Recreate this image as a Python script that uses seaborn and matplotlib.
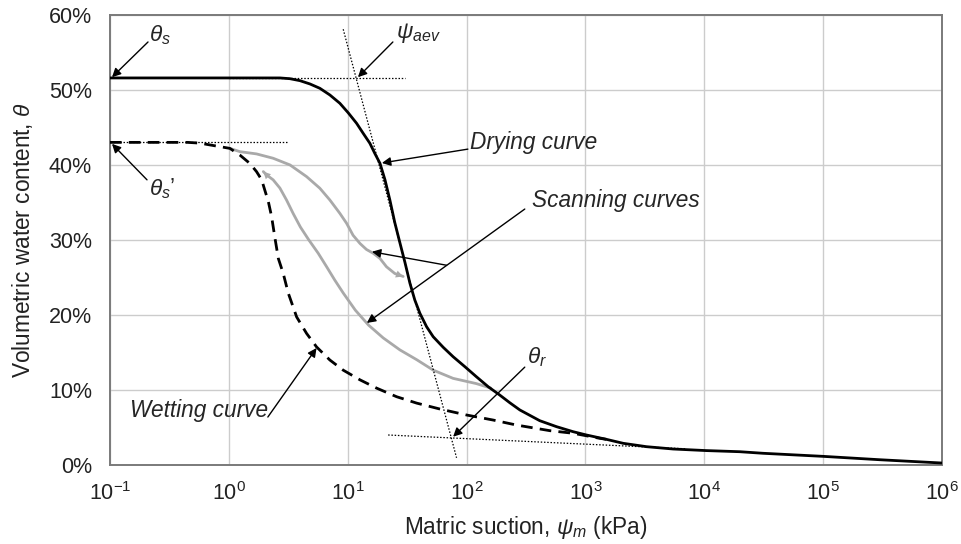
import numpy as np
import pandas as pd
import matplotlib
matplotlib.use("Agg")
import matplotlib.pyplot as plt
import seaborn as sns

# Soil-water characteristic curves: matric suction (kPa) vs volumetric water content (%)
drying_suction = [0.1, 1.0, 2.0, 2.69, 3.27, 3.96, 4.81, 5.83, 7.08, 8.59, 10.09, 11.88,
                  13.5, 15.37, 16.9, 18.7, 20.6, 22.65, 24.9, 27.5, 30.3, 33.4, 36.7,
                  40.5, 46.1, 52.4, 63.6, 77.1, 96.8, 121, 152, 190, 231, 281, 413,
                  572, 789, 1021, 1503, 2080, 3270, 5470, 10400, 19900, 31200, 1e5,
                  2.99e5, 1e6]
drying_theta = [51.6, 51.6, 51.6, 51.6, 51.5, 51.24, 50.8, 50.22, 49.33, 48.22, 46.96, 45.55,
                44.21, 42.88, 41.54, 40.2, 38.0, 35.3, 32.3, 29.6, 27.0, 24.2, 21.96,
                20.19, 18.4, 17.06, 15.65, 14.39, 13.06, 11.72, 10.39, 9.28, 8.25, 7.28, 5.85,
                5.05, 4.38, 3.94, 3.36, 2.83, 2.38, 2.07, 1.86, 1.71, 1.5, 1.09,
                0.64, 0.2]

wetting_suction = [0.1, 0.3, 0.45, 0.571, 0.693, 0.841, 1.02, 1.24, 1.5, 1.71, 1.89, 2.01,
                   2.15, 2.29, 2.44, 2.61, 2.87, 3.16, 3.72, 4.51, 5.47, 7.08, 9.16, 12.7,
                   17.5, 25.8, 38.0, 59.6, 100, 167, 263, 501, 789, 1318, 1500]
wetting_theta = [43.0, 43.0, 43.0, 42.9, 42.66, 42.43, 42.2, 41.3, 40.2, 39.1, 38.0, 36.6,
                 35.1, 33.1, 30.3, 27.5, 25.5, 22.9, 19.7, 17.5, 15.7, 13.95, 12.6, 11.3,
                 10.2, 9.05, 8.2, 7.41, 6.61, 5.94, 5.27, 4.52, 4.17, 3.5, 3.36]

# drying scan: leaves the wetting curve and runs back onto the drying curve
scan_dry_suction = [1.02, 1.24, 1.71, 2.36, 3.27, 4.51, 5.83, 7.08, 8.59, 9.79, 11.1, 12.7,
                    14.4, 16.4, 18.7, 21.2, 24.9, 29.3]
scan_dry_theta = [42.2, 41.76, 41.46, 40.88, 39.99, 38.43, 36.88, 35.31, 33.53, 32.2, 30.6, 29.5,
                  28.7, 28.2, 27.5, 26.4, 25.5, 25.1]

# wetting scan: leaves the drying curve and runs back onto the wetting curve
scan_wet_suction = [160, 121, 77.1, 52.4, 38.0, 27.5, 19.9, 15.0, 11.6, 9.17, 7.8, 6.65,
                    5.65, 4.7, 4.0, 3.48, 3.06, 2.69, 2.36, 2.08, 1.95]
scan_wet_theta = [10.2, 10.8, 11.5, 12.6, 14.0, 15.3, 16.9, 18.6, 20.6, 22.9, 24.6, 26.4,
                  28.2, 30.0, 31.7, 33.5, 35.3, 36.9, 38.0, 38.65, 39.1]

x_ticks = [1e-1, 1e0, 1e1, 1e2, 1e3, 1e4, 1e5, 1e6]
x_tick_labels = [r"$10^{-1}$", r"$10^{0}$", r"$10^{1}$", r"$10^{2}$", r"$10^{3}$",
                 r"$10^{4}$", r"$10^{5}$", r"$10^{6}$"]
y_ticks = [0, 10, 20, 30, 40, 50, 60]
y_tick_labels = ["0%", "10%", "20%", "30%", "40%", "50%", "60%"]

sns.set_theme(style="whitegrid")
plt.rcParams.update({
    "font.family": ["Liberation Sans", "DejaVu Sans"],
    "mathtext.fontset": "custom",
    "mathtext.rm": "Liberation Sans",
    "mathtext.it": "Liberation Sans:italic",
    "mathtext.bf": "Liberation Sans:bold",
})

fig = plt.figure(figsize=(9.62, 5.44), dpi=100)
ax = fig.add_axes([0.1143, 0.1461, 0.8649, 0.8263])
ax.set_xscale("log")

GRAY = "#a9a9a9"

df_dry = pd.DataFrame({"suction": drying_suction, "theta": drying_theta})
df_wet = pd.DataFrame({"suction": wetting_suction, "theta": wetting_theta})
df_s1 = pd.DataFrame({"suction": scan_dry_suction, "theta": scan_dry_theta})
df_s2 = pd.DataFrame({"suction": scan_wet_suction, "theta": scan_wet_theta})

line_kw = dict(sort=False, solid_joinstyle="round", solid_capstyle="round")
sns.lineplot(data=df_s1, x="suction", y="theta", ax=ax, color=GRAY, lw=2.0, zorder=3, **line_kw)
sns.lineplot(data=df_s2, x="suction", y="theta", ax=ax, color=GRAY, lw=2.0, zorder=3, **line_kw)
sns.lineplot(data=df_wet, x="suction", y="theta", ax=ax, color="black", lw=2.0,
             linestyle=(0, (4.2, 2.6)), sort=False, zorder=4)
sns.lineplot(data=df_dry, x="suction", y="theta", ax=ax, color="black", lw=2.0, zorder=5, **line_kw)

# arrowheads at the ends of the scanning curves
for xs, ys in [(scan_dry_suction, scan_dry_theta), (scan_wet_suction, scan_wet_theta)]:
    ax.annotate("", xy=(xs[-1], ys[-1]), xytext=(xs[-2], ys[-2]),
                arrowprops=dict(arrowstyle="-|>", color=GRAY, lw=0,
                                mutation_scale=13, shrinkA=0, shrinkB=0), zorder=6)

# construction lines
dot = dict(color="black", lw=0.9, linestyle=(0, (1.2, 1.4)), zorder=6)
ax.plot([1.0, 30.3], [51.6, 51.6], **dot)
ax.plot([0.1, 3.1], [43.0, 43.0], **dot)
ax.plot([9.17, 82.4], [58.1, 0.9], **dot)
ax.plot([21.9, 7000], [3.94, 2.1], **dot)

# labels with pointer arrows
arrow = dict(arrowstyle="-|>", color="black", lw=1.0, mutation_scale=13,
             shrinkA=0, shrinkB=0)
TXT = 16.3

def pointer(tail, head):
    ax.annotate("", xy=head, xytext=tail, arrowprops=arrow, zorder=7)

ax.text(0.215, 57.3, r"$\theta_s$", fontsize=TXT, ha="left", va="center")
pointer((0.209, 56.4), (0.104, 51.7))

ax.text(25.5, 57.6, r"$\psi_{aev}$", fontsize=TXT, ha="left", va="center")
pointer((24.0, 56.4), (12.2, 51.7))

ax.text(107, 43.0, "Drying curve", fontsize=TXT, style="italic", ha="left", va="center")
pointer((102.6, 42.1), (19.4, 40.25))

ax.text(354, 35.3, "Scanning curves", fontsize=TXT, style="italic", ha="left", va="center")
pointer((309, 34.1), (14.5, 18.9))
pointer((67.9, 26.6), (16.0, 28.4))

ax.text(0.147, 7.2, "Wetting curve", fontsize=TXT, style="italic", ha="left", va="center")
pointer((2.13, 6.34), (5.47, 15.55))

ax.text(322, 14.4, r"$\theta_r$", fontsize=TXT, ha="left", va="center")
pointer((309, 13.0), (77.1, 3.71))

ax.text(0.212, 36.9, r"$\theta_s$’", fontsize=TXT, ha="left", va="center")
pointer((0.205, 38.0), (0.104, 42.8))

ax.set_xlim(1e-1, 1e6)
ax.set_ylim(0, 60)
ax.set_xticks(x_ticks)
ax.set_xticklabels(x_tick_labels)
ax.xaxis.set_minor_locator(matplotlib.ticker.NullLocator())
ax.set_yticks(y_ticks)
ax.set_yticklabels(y_tick_labels)
ax.tick_params(axis="both", labelsize=15.5, colors="#222222", length=0)
ax.tick_params(axis="y", pad=13)
ax.tick_params(axis="x", pad=13)

ax.set_xlabel(r"Matric suction, $\psi_m$ (kPa)", fontsize=16.3, color="#222222", labelpad=6)
ax.set_ylabel(r"Volumetric water content, $\theta$", fontsize=16.3, color="#222222", labelpad=10)

ax.grid(True, color="#cccccc", lw=1.0)
for side in ["left", "bottom", "top", "right"]:
    ax.spines[side].set_visible(True)
    ax.spines[side].set_color("#7a7a7a")
    ax.spines[side].set_linewidth(1.4)
ax.set_facecolor("white")

fig.savefig("out.png", dpi=100, facecolor="white")
